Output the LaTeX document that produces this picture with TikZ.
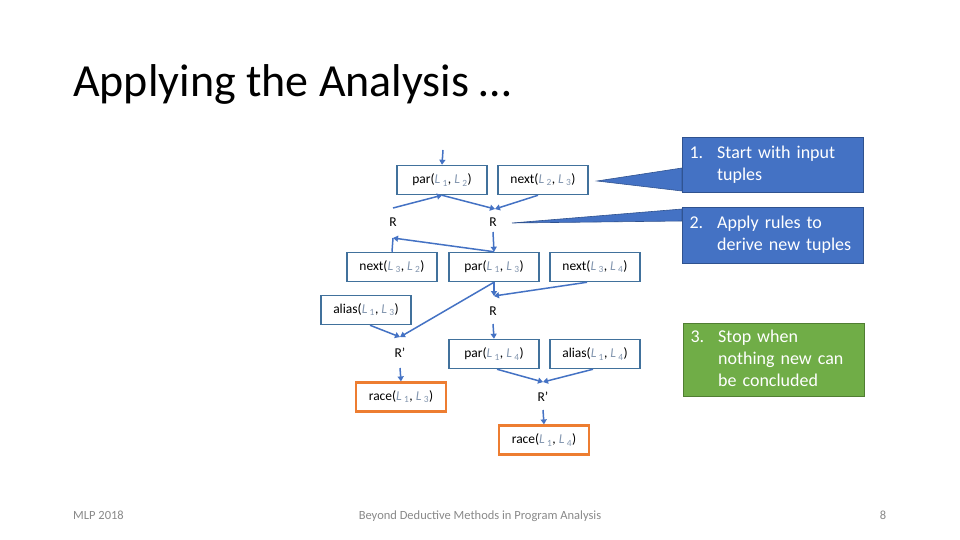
\documentclass[tikz,border=0pt]{standalone}
\usepackage{fontspec}
\setmainfont{Carlito}
\usepackage{xcolor}
\usepackage{tikz}
\usetikzlibrary{positioning, arrows.meta}
\definecolor{aBlue}{HTML}{4472C4}
\definecolor{bEdge}{HTML}{41719C}
\definecolor{cEdge}{HTML}{2F528F}
\definecolor{rOrange}{HTML}{ED7D31}
\definecolor{gFill}{HTML}{70AD47}
\definecolor{gEdge}{HTML}{507E32}
\definecolor{lInk}{HTML}{8497B0}
\definecolor{fInk}{HTML}{898989}
\newcommand{\loc}[1]{{\color{lInk}\itshape L\,\textsubscript{\upshape #1}}}
\tikzset{
  tuplecell/.style={draw=bEdge, line width=1.5pt, minimum width=90pt, minimum height=29pt,
    inner sep=1pt, font=\fontsize{13.5}{15}\selectfont, align=center},
  racecell/.style={tuplecell, draw=rOrange, line width=2.2pt},
  rulelbl/.style={font=\fontsize{13.5}{15}\selectfont, inner sep=0pt},
  flow/.style={aBlue, line width=1.5pt, -{Triangle[width=6pt,length=5pt]}},
  flowplain/.style={aBlue, line width=1.5pt},
  callout/.style={draw=cEdge, fill=aBlue, line width=1pt, anchor=north west, minimum width=181pt,
    text width=167pt, inner xsep=7pt, text=white, align=left,
    font=\fontsize{18}{22}\selectfont},
  footer/.style={font=\fontsize{12.5}{14}\selectfont, text=fInk, anchor=base, inner sep=0pt},
}

\begin{document}
\begin{tikzpicture}[x=1pt, y=-1pt]
        \fill[white] (0,0) rectangle (960,540);
        \useasboundingbox (0,0) rectangle (960,540);
        \node[anchor=base west, font=\fontsize{46}{50}\selectfont, inner sep=0pt] (title) at (73,97) {Applying the Analysis \dots};
        % tuples
        \node[tuplecell] (p12) at (442,180) {par(\loc{1}, \loc{2})};
        \node[tuplecell] (n23) at (543,180) {next(\loc{2}, \loc{3})};
        \node[tuplecell] (n32) at (392,267) {next(\loc{3}, \loc{2})};
        \node[tuplecell] (p13) at (494,267) {par(\loc{1}, \loc{3})};
        \node[tuplecell] (n34) at (595,267) {next(\loc{3}, \loc{4})};
        \node[tuplecell] (a13) at (366,310) {alias(\loc{1}, \loc{3})};
        \node[tuplecell] (p14) at (494,354) {par(\loc{1}, \loc{4})};
        \node[tuplecell] (a14) at (595,354) {alias(\loc{1}, \loc{4})};
        \node[racecell] (r13) at (401,397) {race(\loc{1}, \loc{3})};
        \node[racecell] (r14) at (544,440) {race(\loc{1}, \loc{4})};
        % rules
        \node[rulelbl] (rA) at (393,222) {R};
        \node[rulelbl] (rB) at (493,222) {R};
        \node[rulelbl] (rC) at (493,311) {R};
        \node[rulelbl] (rD) at (400,353) {R'};
        \node[rulelbl] (rE) at (543,397) {R'};
        \coordinate (in0) at (443,150);
        \coordinate (jA) at (393,208);
        \coordinate (jB) at (495,209);
        \coordinate (jC) at (493,232);
        \coordinate (jD) at (393,238);
        \coordinate (jE) at (494,296);
        \coordinate (jF) at (493,324);
        \coordinate (jG) at (400,337);
        \coordinate (jH) at (400,368);
        \coordinate (jI) at (543,382);
        \coordinate (jJ) at (543,410);
        \draw[flow] (in0) -- (p12.north);
        \draw[flow] (jA) -- (p12.south);
        \draw[flow] (p12.south) -- (jB);
        \draw[flow] ([xshift=-5pt]n23.south) -- (jB);
        \draw[flow] (jC) -- (p13.north);
        \draw[flow] (p13.north) -- (jD);
        \draw[flowplain] (n32.north) -- (jD);
        \draw[flow] (p13.south) -- (jE);
        \draw[flow] ([xshift=-8pt]n34.south) -- (jE);
        \draw[flow] (jF) -- (p14.north);
        \draw[flow] ([xshift=4pt]a13.south) -- (jG);
        \draw[flow] (p13.south) -- (jG);
        \draw[flow] (jH) -- (r13.north);
        \draw[flow] ([xshift=3pt]p14.south) -- (jI);
        \draw[flow] ([xshift=-2pt]a14.south) -- (jI);
        \draw[flow] (jJ) -- (r14.north);
        % callouts
        \node[callout, minimum height=55pt] (c1) at (682,137)
          {\begin{tabular}{@{}l@{\hspace{14pt}}l@{}}1. & Start with input\\ & tuples\end{tabular}};
        \node[callout, minimum height=56pt] (c2) at (682,207)
          {\begin{tabular}{@{}l@{\hspace{14pt}}l@{}}2. & Apply rules to\\ & derive new tuples\end{tabular}};
        \node[callout, fill=gFill, draw=gEdge, minimum width=179pt, minimum height=72pt] (c3) at (683,323)
          {\begin{tabular}{@{}l@{\hspace{14pt}}l@{}}3. & Stop when\\ & nothing new can\\ & be concluded\end{tabular}};
        \coordinate (t1) at (597,181);
        \coordinate (t2) at (512,223);
        \filldraw[fill=aBlue, draw=cEdge, line width=0.6pt] (t1) -- ([yshift=-31pt]c1.north west) -- ([yshift=2pt]c1.south west) -- cycle;
        \filldraw[fill=aBlue, draw=cEdge, line width=0.6pt] (t2) -- ([yshift=-2pt]c2.north west) -- ([yshift=-14pt]c2.north west) -- cycle;
        % footer
        \node[footer, anchor=base west] (f1) at (73,519) {MLP 2018};
        \node[footer] (f2) at (480,519) {Beyond Deductive Methods in Program Analysis};
        \node[footer] (f3) at (883,519) {8};
      \end{tikzpicture}
\end{document}
